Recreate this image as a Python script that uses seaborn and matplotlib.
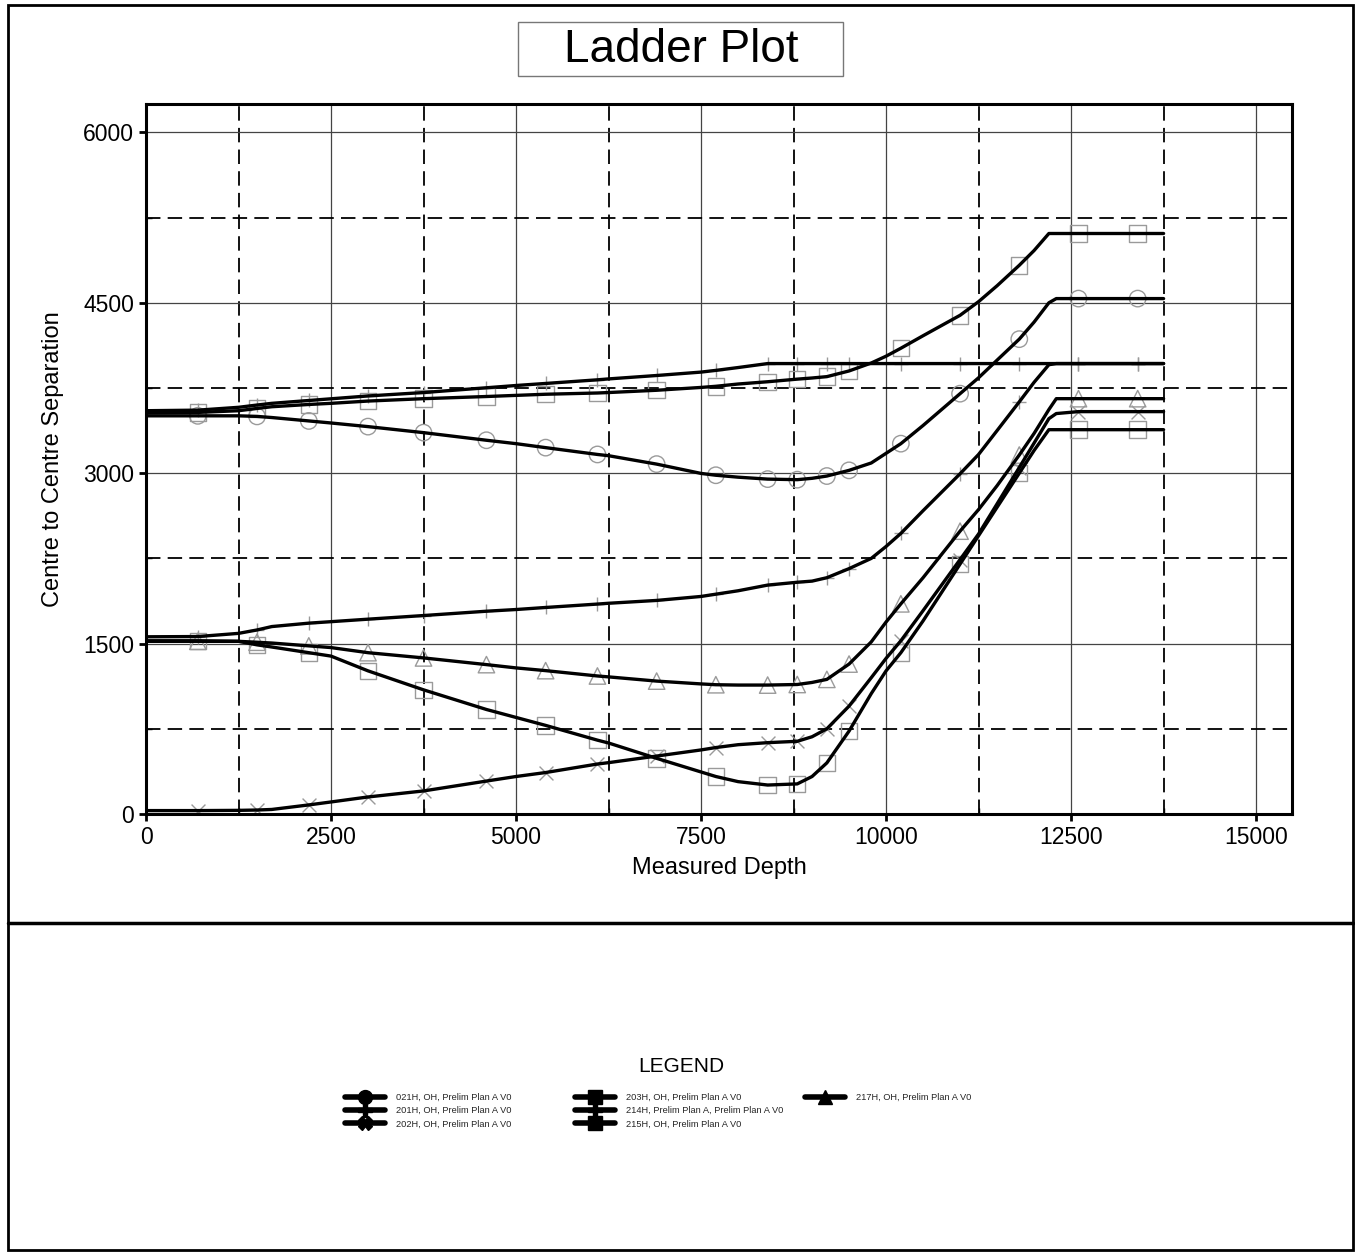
import numpy as np
import pandas as pd
import matplotlib.pyplot as plt
import seaborn as sns
from matplotlib.lines import Line2D
from matplotlib.patches import Rectangle
from matplotlib.ticker import MultipleLocator

# measured depth stations (shared by every well)
depth = [0, 700, 1250, 1500, 1700, 2200, 2500, 3000, 3750, 4600, 5000, 5400,
         6100, 6250, 6900, 7500, 7700, 8000, 8400, 8800, 9000, 9200, 9500,
         9800, 10000, 10200, 10500, 11000, 11250, 11500, 11800, 12000, 12200,
         12300, 12600, 13400, 13750]

# centre to centre separation per offset well
sep_021h = [3505, 3505, 3505, 3500, 3490, 3460, 3442, 3410, 3357, 3290, 3260, 3225,
            3165, 3154, 3080, 2998, 2982, 2965, 2948, 2943, 2955, 2975, 3025,
            3090, 3175, 3260, 3420, 3700, 3840, 3995, 4180, 4330, 4500,
            4537, 4537, 4537, 4537]
sep_201h = [3550, 3555, 3580, 3600, 3615, 3640, 3655, 3680, 3710, 3752, 3772, 3790,
            3822, 3830, 3860, 3890, 3905, 3930, 3965, 3965, 3965, 3965, 3965,
            3965, 3965, 3965, 3965, 3965, 3965, 3965, 3965, 3965, 3965,
            3965, 3965, 3965, 3965]
sep_202h = [30, 30, 32, 35, 40, 80, 106, 150, 203, 290, 330, 365,
            440, 452, 510, 564, 585, 610, 628, 640, 680, 750, 950,
            1200, 1370, 1525, 1790, 2240, 2465, 2730, 3050, 3265, 3480,
            3525, 3542, 3542, 3542]
sep_203h = [3530, 3535, 3550, 3570, 3585, 3605, 3615, 3635, 3656, 3675, 3685, 3695,
            3706, 3710, 3730, 3755, 3765, 3785, 3805, 3828, 3838, 3850, 3900,
            3970, 4030, 4100, 4210, 4390, 4510, 4650, 4830, 4960, 5110,
            5110, 5110, 5110, 5110]
sep_214h = [1560, 1562, 1590, 1620, 1650, 1680, 1693, 1715, 1747, 1785, 1800, 1818,
            1848, 1855, 1880, 1915, 1935, 1965, 2015, 2040, 2050, 2080, 2160,
            2250, 2355, 2470, 2670, 2995, 3165, 3375, 3628, 3800, 3955,
            3965, 3965, 3965, 3965]
sep_215h = [1525, 1525, 1520, 1489, 1470, 1420, 1390, 1260, 1093, 920, 850, 780,
            650, 625, 490, 370, 330, 285, 255, 265, 330, 450, 730,
            1060, 1260, 1420, 1700, 2200, 2450, 2700, 3000, 3200, 3383,
            3383, 3383, 3383, 3383]
sep_217h = [1520, 1520, 1520, 1512, 1505, 1480, 1465, 1420, 1374, 1315, 1286, 1262,
            1215, 1207, 1170, 1145, 1138, 1135, 1135, 1140, 1158, 1185, 1320,
            1515, 1690, 1850, 2080, 2490, 2680, 2890, 3160, 3350, 3560,
            3656, 3656, 3656, 3656]

wells = ["021H, OH, Prelim Plan A V0",
         "201H, OH, Prelim Plan A V0",
         "202H, OH, Prelim Plan A V0",
         "203H, OH, Prelim Plan A V0",
         "214H, Prelim Plan A, Prelim Plan A V0",
         "215H, OH, Prelim Plan A V0",
         "217H, OH, Prelim Plan A V0"]
seps = [sep_021h, sep_201h, sep_202h, sep_203h, sep_214h, sep_215h, sep_217h]
plot_markers = ["o", "+", "x", "s", "+", "s", "^"]
legend_markers = ["o", "P", "X", "s", "P", "s", "^"]

# depths where the symbol for each well is drawn
marker_depths = [700, 1500, 2200, 3000, 3750, 4600, 5400, 6100, 6900, 7700,
                 8400, 8800, 9200, 9500, 10200, 11000, 11800, 12600, 13400]

df = pd.concat([pd.DataFrame({"depth": depth, "sep": s, "well": w})
                for w, s in zip(wells, seps)], ignore_index=True)

sns.set_theme(style="white")
plt.rcParams["font.family"] = ["Liberation Sans", "DejaVu Sans"]

fig = plt.figure(figsize=(13.55, 12.52), dpi=100)
ax = fig.add_axes([0.10775, 0.34984, 0.8458, 0.5671])

sns.lineplot(data=df, x="depth", y="sep", hue="well",
             palette={w: "black" for w in wells}, estimator=None,
             linewidth=2.4, legend=False, ax=ax, zorder=3)

for w, m in zip(wells, plot_markers):
    sub = df[(df["well"] == w) & (df["depth"].isin(marker_depths))]
    if m in ("+", "x"):
        sns.scatterplot(data=sub, x="depth", y="sep", marker=m, s=100,
                        color="#9a9a9a", linewidth=1.0, ax=ax, zorder=2,
                        legend=False)
    else:
        sns.scatterplot(data=sub, x="depth", y="sep", marker=m, s=140,
                        facecolor="none", edgecolor="#9a9a9a", linewidth=1.0,
                        ax=ax, zorder=2, legend=False)

ax.set_xlim(0, 15486)
ax.set_ylim(0, 6250)
ax.xaxis.set_major_locator(MultipleLocator(2500))
ax.xaxis.set_minor_locator(MultipleLocator(1250))
ax.yaxis.set_major_locator(MultipleLocator(1500))
ax.yaxis.set_minor_locator(MultipleLocator(750))
ax.set_axisbelow(True)
ax.grid(which="major", color="#444444", linewidth=0.9, linestyle="-")
ax.grid(which="minor", color="black", linewidth=1.3, linestyle=(0, (8, 4)))
ax.tick_params(which="major", direction="out", length=5, width=2,
               color="black", labelsize=16.5, labelcolor="black",
               bottom=True, left=True)
ax.tick_params(which="minor", direction="in", length=4, width=1,
               color="black", bottom=True, left=True)
for sp in ax.spines.values():
    sp.set_color("black")
    sp.set_linewidth(2.2)

ax.set_xlabel("Measured Depth", fontsize=17, color="black", labelpad=6)
ax.set_ylabel("Centre to Centre Separation", fontsize=17, color="black",
              labelpad=14)

# title box
W, H = 1355.0, 1252.0
fig.add_artist(Rectangle((518 / W, 1 - 76 / H), 325 / W, 54 / H,
                         transform=fig.transFigure, fill=False,
                         edgecolor="#777777", linewidth=1))
fig.text(681 / W, 1 - 50 / H, "Ladder Plot", fontsize=33, ha="center",
         va="center", color="black")

# page frame and divider
fig.add_artist(Rectangle((8 / W, 1 - 1250 / H), 1345 / W, 1245 / H,
                         transform=fig.transFigure, fill=False,
                         edgecolor="black", linewidth=2))
fig.add_artist(Line2D([8 / W, 1353 / W], [1 - 923 / H, 1 - 923 / H],
                      transform=fig.transFigure, color="black", linewidth=2.5))

# legend
fig.text(681 / W, 1 - 1066 / H, "LEGEND", fontsize=15, ha="center",
         va="center", color="black")
handles = [Line2D([], [], color="black", linewidth=4, marker=m, markersize=10,
                  markerfacecolor="black", markeredgecolor="black")
           for m in legend_markers]
columns = [(0, 3, 345), (3, 6, 575), (6, 7, 805)]
for a, b, x0 in columns:
    fig.legend(handles[a:b], wells[a:b], loc="upper left",
               bbox_to_anchor=(x0 / W, 1 - 1093 / H), frameon=False,
               fontsize=6.7, handlelength=4.3, handletextpad=1.2,
               labelspacing=0.45, borderpad=0, borderaxespad=0)

fig.savefig("out.png", dpi=100)
